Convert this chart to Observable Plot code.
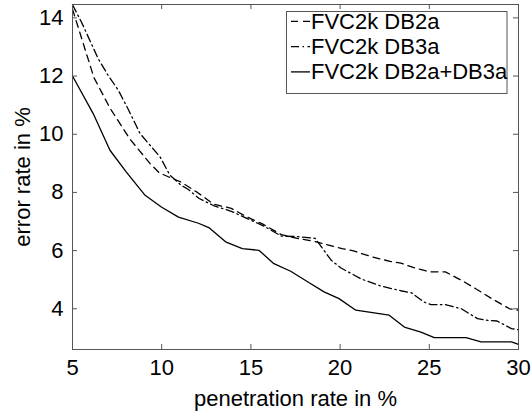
<!DOCTYPE html>
<html>
<head>
<meta charset="utf-8">
<script src="https://cdn.jsdelivr.net/npm/d3@7"></script>
<script src="https://cdn.jsdelivr.net/npm/@observablehq/plot@0.6"></script>
<style>
  html, body { margin: 0; padding: 0; background: white; }
  #chart { width: 532px; height: 413px; }
</style>
</head>
<body>
<div id="chart"></div>
<script>
// ---- data ----
const xTicks = [5, 10, 15, 20, 25, 30];
const yTicks = [4, 6, 8, 10, 12, 14];
const seriesNames = ["FVC2k DB2a", "FVC2k DB3a", "FVC2k DB2a+DB3a"];
const xLabel = "penetration rate in %";
const yLabel = "error rate in %";

const db2aX = [5, 6.2, 7.1, 8.2, 9.35, 9.85, 10.4, 11.1, 12.0, 12.9, 13.9, 14.8, 15.7, 16.7, 17.6, 18.5, 19.3, 20.1, 20.7, 21.7, 22.8, 23.4, 24.2, 25.0, 25.9, 26.8, 27.6, 28.5, 29.5, 30];
const db2aY = [14.3, 11.95, 10.9, 9.85, 8.99, 8.68, 8.53, 8.35, 8.0, 7.6, 7.45, 7.15, 6.9, 6.55, 6.42, 6.32, 6.2, 6.07, 6.0, 5.8, 5.63, 5.57, 5.4, 5.27, 5.27, 4.98, 4.69, 4.35, 4.0, 3.95];

const db3aX = [5, 5.5, 6.44, 7.0, 7.57, 8.13, 8.79, 9.35, 9.91, 10.45, 11.1, 11.5, 12.1, 12.9, 13.9, 14.8, 15.7, 16.7, 17.6, 18.6, 19.5, 20.05, 21.2, 22.3, 23.4, 24.0, 24.7, 25.1, 25.9, 26.8, 27.7, 28.3, 28.8, 29.6, 30];
const db3aY = [14.45, 13.86, 12.6, 12.02, 11.51, 10.85, 10.02, 9.62, 9.22, 8.6, 8.24, 8.1, 7.79, 7.55, 7.35, 7.1, 6.85, 6.5, 6.48, 6.42, 5.67, 5.4, 5.02, 4.78, 4.62, 4.55, 4.23, 4.14, 4.14, 4.0, 3.66, 3.6, 3.58, 3.32, 3.28];

const bothX = [5, 6.16, 7.1, 8.02, 9.07, 9.98, 10.94, 12.06, 12.64, 13.58, 14.52, 15.45, 16.29, 17.23, 18.2, 19.1, 19.94, 20.88, 22.75, 23.6, 24.53, 25.28, 27.06, 27.9, 29.6, 30];
const bothY = [12.0, 10.71, 9.45, 8.7, 7.9, 7.5, 7.15, 6.94, 6.79, 6.3, 6.07, 6.01, 5.55, 5.29, 4.92, 4.58, 4.35, 3.95, 3.78, 3.37, 3.2, 3.01, 3.01, 2.86, 2.86, 2.78];

const dashes = ["7,5", "8,3.5,1.5,3.5", null];

const toRows = (xs, ys, s) => xs.map((x, i) => ({series: s, x, y: ys[i]}));
const series = [
  toRows(db2aX, db2aY, seriesNames[0]),
  toRows(db3aX, db3aY, seriesNames[1]),
  toRows(bothX, bothY, seriesNames[2])
];

const FONT = "'Liberation Sans', Arial, Helvetica, sans-serif";
const AX = "#555";
const W = 532, H = 413, ML = 72, MR = 14, MT = 4, MB = 64;
const TICK = 5;
const innerW = W - ML - MR, innerH = H - MT - MB;

const chart = Plot.plot({
  width: W,
  height: H,
  marginLeft: ML,
  marginRight: MR,
  marginTop: MT,
  marginBottom: MB,
  style: {fontFamily: FONT, fontSize: "22px", background: "white", color: "black"},
  x: {domain: [5, 30]},
  y: {domain: [2.6, 14.46]},
  marks: [
    // inward tick marks on all four sides
    Plot.ruleX(xTicks, {x: d => d, stroke: AX, insetTop: innerH - TICK}),
    Plot.ruleX(xTicks, {x: d => d, stroke: AX, insetBottom: innerH - TICK}),
    Plot.ruleY(yTicks, {y: d => d, stroke: AX, insetRight: innerW - TICK}),
    Plot.ruleY(yTicks, {y: d => d, stroke: AX, insetLeft: innerW - TICK}),
    // tick labels + axis titles
    Plot.axisX({ticks: xTicks, anchor: "bottom", tickSize: 0, tickPadding: 10, label: xLabel, labelAnchor: "center", labelArrow: "none", labelOffset: 56, fill: "black"}),
    Plot.axisY({ticks: yTicks, anchor: "left", tickSize: 0, tickPadding: 9, label: yLabel, labelAnchor: "center", labelArrow: "none", labelOffset: 58, fill: "black"}),
    ...series.map((rows, i) => Plot.line(rows, {
      x: "x", y: "y", stroke: "black", strokeWidth: 1.3,
      strokeDasharray: dashes[i] || undefined
    })),
    Plot.frame({stroke: AX, strokeWidth: 1})
  ]
});

document.getElementById("chart").appendChild(chart);

// legend box (top-right, inside the plot frame)
const svg = d3.select(chart);
const lg = svg.append("g")
  .attr("font-family", FONT)
  .attr("font-size", "22px")
  .attr("text-anchor", "start");
lg.append("rect")
  .attr("x", 286.5).attr("y", 11.5).attr("width", 220.5).attr("height", 82)
  .attr("fill", "white").attr("stroke", AX).attr("stroke-width", 1);
seriesNames.forEach((name, i) => {
  const base = 28.8 + i * 25.3;
  lg.append("line")
    .attr("x1", 291).attr("x2", 310)
    .attr("y1", base - 7.5).attr("y2", base - 7.5)
    .attr("stroke", "black").attr("stroke-width", 1.3)
    .attr("stroke-dasharray", dashes[i] || null);
  lg.append("text")
    .attr("x", 311).attr("y", base)
    .attr("text-anchor", "start")
    .attr("fill", "black")
    .text(name);
});
</script>
</body>
</html>
